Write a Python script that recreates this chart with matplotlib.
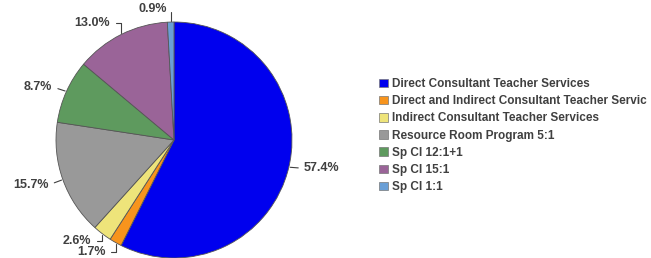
import numpy as np
import matplotlib.pyplot as plt
from matplotlib.patches import Patch

plt.rcParams['font.family'] = ['Liberation Sans', 'DejaVu Sans']

# Data
categories = ['Direct Consultant Teacher Services',
              'Direct and Indirect Consultant Teacher Servic',
              'Indirect Consultant Teacher Services',
              'Resource Room Program 5:1',
              'Sp Cl 12:1+1',
              'Sp Cl 15:1',
              'Sp Cl 1:1']
shares = [57.4, 1.7, 2.6, 15.7, 8.7, 13.0, 0.9]
colors = ['#0000EE', '#F7941D', '#EEE47A', '#999999', '#5E9A5E', '#9A6498', '#6A9FD6']

# label placement (text position in axis units, alignment)
label_pos = [(1.10, -0.24, 'left'),
             (-0.58, -0.95, 'right'),
             (-0.70, -0.86, 'right'),
             (-1.06, -0.38, 'right'),
             (-1.03, 0.45, 'right'),
             (-0.54, 0.99, 'right'),
             (-0.06, 1.11, 'right')]

W, H = 651, 258
cx, cy, R = 174, 140, 118

fig = plt.figure(figsize=(W / 100, H / 100), dpi=100)
ax = fig.add_axes([0, 0, 1, 1])

wedges, _ = ax.pie(shares, colors=colors, startangle=90, counterclock=False,
                   radius=1, wedgeprops=dict(edgecolor='#555555', linewidth=0.6))
ax.set_xlim(-cx / R, (W - cx) / R)
ax.set_ylim(-(H - cy) / R, cy / R)
ax.set_aspect('equal', adjustable='datalim')
ax.axis('off')

txt_color = '#404040'
cum = np.cumsum([0] + shares[:-1])
for i, v in enumerate(shares):
    mid = np.deg2rad(90 - (cum[i] + v / 2) * 3.6)
    x, y = np.cos(mid), np.sin(mid)
    tx, ty, ha = label_pos[i]
    if i == 0 or i == 3 or i == 4:
        cs = 'arc3'
    else:
        cs = 'angle,angleA=0,angleB=90,rad=0'
    ax.annotate('%.1f%%' % v, xy=(x, y), xytext=(tx, ty), ha=ha, va='center',
                fontsize=9, fontweight='bold', color=txt_color,
                arrowprops=dict(arrowstyle='-', color=txt_color, lw=0.8,
                                connectionstyle=cs, shrinkA=2, shrinkB=1,
                                relpos=(0, 0.5) if ha == 'left' else (1, 0.5)))

handles = [Patch(facecolor=c, edgecolor='#777777', linewidth=0.5) for c in colors]
fig.legend(handles, categories, loc='upper left', bbox_to_anchor=(379 / W, 1 - 78 / H),
           frameon=False, borderpad=0, borderaxespad=0, handlelength=0.75,
           handleheight=0.75, handletextpad=0.35, labelspacing=0.44,
           prop=dict(size=8.5, weight='bold'), labelcolor=txt_color)

fig.savefig('out.png', dpi=100)
